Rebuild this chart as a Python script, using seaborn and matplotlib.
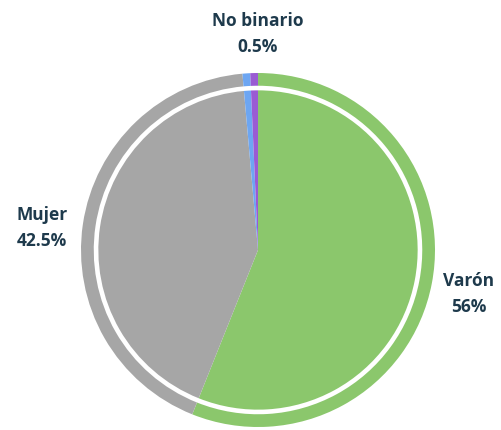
import matplotlib
matplotlib.use("Agg")
import matplotlib.pyplot as plt
import seaborn as sns

categories = ["Varón", "Mujer", "Otro", "No binario"]
values = [56, 42.5, 0.7, 0.7]
labels_pct = ["56%", "42.5%", "", "0.5%"]
colors = ["#8BC76C", "#A6A6A6", "#6DA6F2", "#9A5BD3"]

sns.set_theme(style="white")
plt.rcParams['font.family'] = ['Open Sans', 'DejaVu Sans']

fig = plt.figure(figsize=(5.01, 4.30), dpi=100)
ax = fig.add_axes([0, 0, 1, 1])
ax.set_axis_off()

R = 1.0
ax.pie(values, colors=colors, startangle=90, counterclock=False, radius=R,
       wedgeprops=dict(width=0.072, linewidth=0))
ax.pie(values, colors=colors, startangle=90, counterclock=False, radius=R * 0.902,
       wedgeprops=dict(linewidth=0))

ax.set_xlim(-258 / 177, (501 - 258) / 177)
ax.set_ylim(-(430 - 250) / 177, 250 / 177)
ax.set_aspect('equal')

txt = dict(color="#1E3A4C", fontsize=12.5, fontweight="bold", ha="center", va="center")
label_pos = {"Varón": (1.19, -0.25), "Mujer": (-1.22, 0.125), "No binario": (0.0, 1.22)}
for cat, pct in zip(categories, labels_pct):
    if cat in label_pos:
        x, y = label_pos[cat]
        ax.text(x, y, f"{cat}\n{pct}", linespacing=1.55, **txt)

fig.savefig("out.png", dpi=100)
